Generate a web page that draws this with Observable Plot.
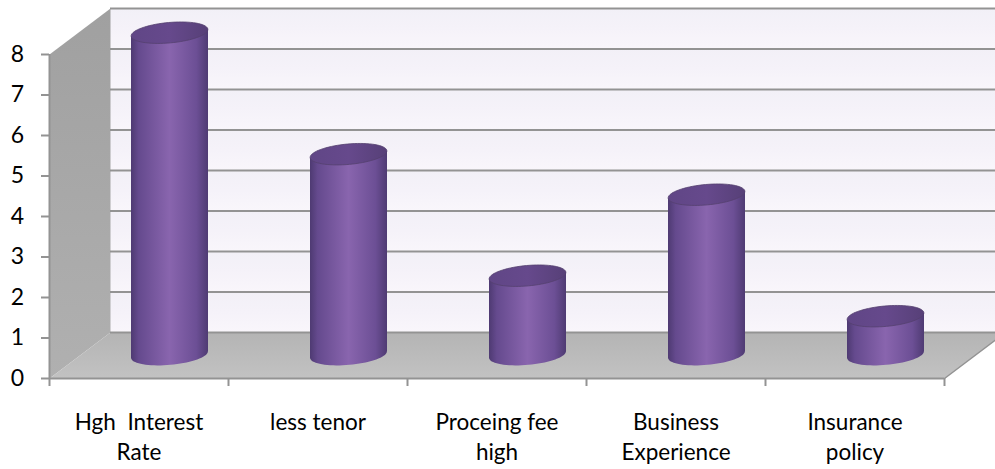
<!DOCTYPE html>
<html>
<head>
<meta charset="utf-8">
<script src="https://cdn.jsdelivr.net/npm/d3@7"></script>
<script src="https://cdn.jsdelivr.net/npm/@observablehq/plot@0.6"></script>
<style>html,body{margin:0;padding:0;background:#fff;overflow:hidden}svg{display:block}</style>
</head>
<body>
<div id="chart"></div>
<script>
const categories = ["Hgh  Interest\nRate", "less tenor", "Proceing fee\nhigh", "Business\nExperience", "Insurance\npolicy"];
const values = [8, 5, 2, 4, 1];
const yTicks = [0, 1, 2, 3, 4, 5, 6, 7, 8];
const xTicks = [0, 1, 2, 3, 4, 5];

// 3D projection: how far the back wall is shifted, in scale units
const depthX = 61 / 179;
const depthY = 46 / 40.5;
const cylW = 77 / 179;
const far = 5.5;
const gray = "#939393";
const tilt = -0.09;
const skew = 38.5 * Math.sin(-tilt) / 40.5;
const capInset = 2 / 40.5;   // the cap sits slightly below the value plane

const rows = categories.map((c, i) => ({c, i, v: values[i], cx: i + 0.5 + depthX / 2, base: depthY / 2 + 0.02}));
const bodies = rows.flatMap(d => [
  {i: d.i, x: d.cx - cylW / 2, y: d.base - skew},
  {i: d.i, x: d.cx - cylW / 2, y: d.base + d.v - capInset - skew},
  {i: d.i, x: d.cx + cylW / 2, y: d.base + d.v - capInset + skew},
  {i: d.i, x: d.cx + cylW / 2, y: d.base + skew}
]);

function ellipseSymbol(ry, angle) {
  return {
    draw(ctx, size) {
      const rx = Math.sqrt(size / Math.PI);
      const cos = Math.cos(angle), sin = Math.sin(angle);
      for (let k = 0; k < 72; k++) {
        const a = k / 72 * 2 * Math.PI;
        const ex = rx * Math.cos(a), ey = ry * Math.sin(a);
        const px = ex * cos - ey * sin, py = ex * sin + ey * cos;
        if (k === 0) ctx.moveTo(px, py); else ctx.lineTo(px, py);
      }
      ctx.closePath();
    }
  };
}
const ell = ellipseSymbol(10.2, tilt);

function defs() {
  const d = d3.create("svg:defs");
  const grad = (id, stops, vertical) => {
    const g = d.append("linearGradient").attr("id", id)
      .attr("x1", 0).attr("y1", 0).attr("x2", vertical ? 0 : 1).attr("y2", vertical ? 1 : 0);
    stops.forEach(([o, c]) => g.append("stop").attr("offset", o).attr("stop-color", c));
  };
  grad("body", [[0, "#4e3a72"], [0.1, "#654a8e"], [0.5, "#8965ae"], [0.85, "#6c4f95"], [1, "#4f3b73"]]);
  grad("top", [[0, "#604686"], [0.5, "#66498c"], [1, "#574078"]]);
  grad("band", [[0, "#f2f0f7"], [0.5, "#f5f2f9"], [1, "#f9f6fb"]], true);
  grad("wall", [[0, "#a0a0a0"], [1, "#b0b0b0"]], true);
  grad("floor", [[0, "#b4b4b4"], [1, "#c2c2c2"]], true);
  return d.node();
}

const poly = (pts, fill) => Plot.line(pts, {x: d => d[0], y: d => d[1], fill, stroke: null});

const plot = Plot.plot({
  width: 995,
  height: 469,
  marginLeft: 49,
  marginRight: 0,
  marginTop: 0,
  marginBottom: 91,
  style: {background: "#fff", fontFamily: "Lato, sans-serif", color: "#000"},
  x: {type: "linear", domain: [0, 946 / 179]},
  y: {type: "linear", domain: [0, 378 / 40.5]},
  marks: [
    defs,
    // back wall bands
    Plot.rect(yTicks.slice(0, -1), {x1: depthX, x2: far, y1: d => d + depthY, y2: d => d + 1 + depthY, fill: "url(#band)"}),
    // left wall
    poly([[0, 0], [depthX, depthY], [depthX, 8 + depthY], [0, 8]], "url(#wall)"),
    // floor
    poly([[0, 0], [depthX, depthY], [5 + depthX, depthY], [5, 0]], "url(#floor)"),
    // grid on back wall
    Plot.ruleY(yTicks, {y: d => d + depthY, x1: depthX, x2: far, stroke: gray, strokeWidth: 2.2}),
    // right edge of floor and axis lines
    Plot.line([[5, 0], [5 + depthX, depthY]], {x: d => d[0], y: d => d[1], stroke: gray, strokeWidth: 1.5}),
    Plot.ruleY([0], {x1: 0, x2: 5, stroke: gray, strokeWidth: 2}),
    Plot.ruleX([0], {y1: 0, y2: 8, stroke: gray, strokeWidth: 2}),
    // cylinders
    Plot.dot(rows, {x: "cx", y: "base", r: 38.5, symbol: ell, fill: "url(#body)", stroke: null}),
    Plot.line(bodies, {x: "x", y: "y", z: "i", fill: "url(#body)", stroke: null}),
    Plot.dot(rows, {x: "cx", y: d => d.base + d.v - capInset, r: 38.5, symbol: ell, fill: "url(#top)", stroke: "#54406f", strokeWidth: 0.8}),
    // axes
    Plot.axisY(yTicks, {tickSize: 8, tickPadding: 24, stroke: gray, strokeWidth: 2, fontSize: 23, label: null, tickFormat: d => String(d), textAnchor: "middle", fill: "#000"}),
    Plot.axisX(xTicks, {tickSize: 8, stroke: gray, strokeWidth: 2, tickFormat: () => "", label: null}),
    // category labels
    Plot.text(rows, {x: d => d.i + 0.5, y: 0, text: "c", lineAnchor: "top", dy: 30, fontSize: 22.5, lineHeight: 1.33, fill: "#000", textAnchor: "middle"})
  ]
});
document.getElementById("chart").append(plot);
</script>
</body>
</html>
